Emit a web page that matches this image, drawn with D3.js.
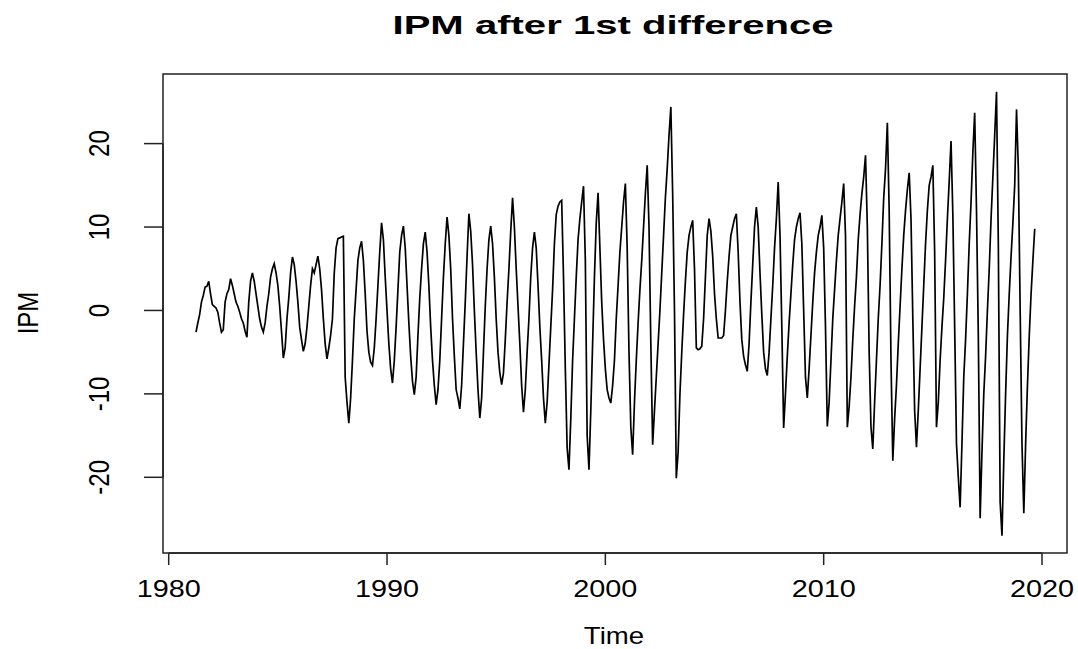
<!DOCTYPE html>
<meta charset="utf-8">
<script src="https://d3js.org/d3.v7.min.js"></script>
<style>
  body { margin: 0; background: #fff; }
  text { font-family: "Liberation Sans", Arial, sans-serif; fill: #000; }
</style>
<svg id="chart" width="1078" height="649"></svg>
<script>

// monthly series, starts April 1981
var startYear = 1981.25, freq = 12;

var ipm = [
 -2.6,-1.5,-0.5,1.0,1.8,2.8,2.9,3.5,2.0,0.7,0.5,0.3,-0.2,-1.5,-2.6,-2.3,1.0,2.0,2.5,3.8,
 3.0,2.0,1.0,0.5,-0.2,-1.0,-1.5,-2.5,-3.2,1.0,3.5,4.5,3.5,2.0,0.5,-1.0,-2.0,-2.6,-1.5,0.5,
 2.0,4.0,5.0,5.6,4.5,3.0,0.5,-2.5,-5.7,-4.5,-1.0,1.5,4.5,6.4,5.5,3.5,1.0,-2.0,-3.5,-4.9,
 -4.0,-2.0,0.5,3.0,5.0,4.5,5.5,6.5,5.0,2.5,-1.0,-4.0,-5.8,-4.5,-3.0,-1.0,4.5,7.5,8.6,8.7,
 8.8,8.9,-8.0,-11.0,-13.5,-10.5,-6.0,-1.0,2.5,6.0,7.5,8.3,6.0,2.0,-2.5,-5.0,-6.2,-6.6,-4.5,-1.0,
 3.0,7.0,10.5,8.5,4.0,0.0,-4.0,-7.0,-8.7,-6.0,-2.0,2.5,7.0,9.0,10.1,7.5,3.0,-1.5,-5.5,-8.5,
 -10.1,-8.0,-3.0,1.5,5.0,8.0,9.4,7.0,3.0,-2.0,-6.0,-9.0,-11.3,-9.5,-6.0,-1.0,4.0,8.0,11.2,9.0,
 5.0,-1.0,-5.5,-9.5,-10.5,-11.8,-9.0,-4.0,1.0,6.5,11.6,9.5,5.5,0.0,-5.0,-9.5,-12.9,-10.5,-5.0,0.5,
 5.0,8.5,10.1,8.0,4.0,-1.0,-5.0,-7.5,-8.9,-7.5,-3.5,1.0,5.0,9.5,13.5,10.0,5.0,0.5,-4.0,-9.0,
 -12.2,-9.5,-5.0,-1.0,4.0,7.5,9.4,7.5,3.0,-2.0,-6.0,-10.5,-13.5,-11.0,-6.5,-2.0,2.5,8.0,11.5,12.5,
 13.0,13.2,4.0,-7.0,-16.5,-19.1,-13.0,-6.0,-1.0,4.0,8.5,11.0,13.0,14.9,6.0,-15.0,-19.1,-12.0,-4.0,4.0,
 10.5,14.1,7.5,1.0,-3.5,-7.0,-9.5,-10.5,-11.1,-9.0,-6.0,-1.0,3.0,7.0,10.0,13.0,15.2,7.5,-5.0,-14.0,
 -17.3,-11.0,-6.0,-1.5,2.5,6.0,10.0,14.0,17.4,10.0,-4.0,-16.1,-12.0,-8.0,-4.0,0.0,4.5,9.0,13.5,17.0,
 21.0,24.4,14.0,0.0,-20.1,-17.0,-10.0,-5.0,-0.5,3.5,7.0,9.0,10.0,10.8,5.0,-4.5,-4.7,-4.6,-4.3,-1.0,
 4.0,9.0,11.0,9.5,6.5,2.0,-1.0,-3.3,-3.3,-3.3,-3.0,0.0,3.5,6.5,9.0,10.0,11.0,11.6,7.0,1.0,
 -3.5,-5.5,-6.5,-7.3,-4.0,1.0,5.5,10.0,12.4,10.0,4.5,-0.5,-5.0,-7.0,-7.8,-5.0,-1.0,3.0,7.5,11.0,
 15.4,9.0,-2.0,-14.1,-10.0,-5.5,-1.5,2.0,5.5,8.5,10.0,11.0,11.7,8.0,0.0,-8.0,-10.5,-7.0,-3.0,1.0,
 4.5,7.0,9.0,10.0,11.4,7.5,-2.0,-13.9,-11.0,-6.0,-1.0,2.5,6.0,9.0,11.0,13.0,15.2,9.0,-14.0,-11.5,
 -8.0,-3.5,0.5,4.0,8.5,11.5,14.0,16.0,18.6,10.0,-5.0,-14.0,-16.6,-11.0,-6.0,-1.0,3.0,8.0,13.5,17.0,
 22.5,12.0,-6.0,-18.0,-13.0,-9.0,-4.0,0.5,5.0,9.0,12.0,14.5,16.5,11.0,-1.0,-12.0,-16.4,-12.0,-7.0,-2.0,
 3.0,8.0,12.0,15.0,16.0,17.4,7.0,-14.0,-11.0,-6.0,-2.0,1.5,6.0,11.0,15.5,20.3,11.5,-2.0,-16.0,-20.0,
 -23.6,-16.0,-8.0,-3.5,2.0,8.0,13.0,19.0,23.7,12.0,-3.0,-24.9,-17.0,-10.0,-5.5,0.0,5.0,11.0,16.0,21.0,
 26.2,8.0,-23.0,-27.0,-18.0,-10.0,-3.0,2.0,6.5,10.5,15.0,24.1,17.0,0.0,-16.0,-24.3,-16.0,-9.0,-3.0,2.0,
 6.0,9.8
];

var xTicks = [1980, 1990, 2000, 2010, 2020];
var yTicks = [-20, -10, 0, 10, 20];

var title = "IPM after 1st difference",
    xLabel = "Time",
    yLabel = "IPM";

var svg = d3.select("#chart");

// plot box (R style)
var box = {left: 163, right: 1067, top: 74, bottom: 553};

var x = d3.scaleLinear().domain([1980, 2020]).range([168.7, 1042]);
var y = d3.scaleLinear().domain([-20, 20]).range([477.3, 143.6]);

var data = ipm.map(function(v, i) { return {t: startYear + i / freq, v: v}; });

var line = d3.line()
    .x(function(d) { return x(d.t); })
    .y(function(d) { return y(d.v); });

svg.append("path")
    .datum(data)
    .attr("d", line)
    .style("fill", "none")
    .style("stroke", "#000")
    .style("stroke-width", 1.7)
    .style("stroke-linejoin", "miter");

svg.append("rect")
    .attr("x", box.left).attr("y", box.top)
    .attr("width", box.right - box.left)
    .attr("height", box.bottom - box.top)
    .style("fill", "none")
    .style("stroke", "#222")
    .style("stroke-width", 1.5);

// bottom axis
var gx = svg.append("g");
gx.append("line")
    .attr("x1", x(1980)).attr("x2", x(2020))
    .attr("y1", box.bottom).attr("y2", box.bottom)
    .style("stroke", "#222").style("stroke-width", 1.5);
gx.selectAll(".tk").data(xTicks).enter().append("line")
    .attr("x1", function(d) { return x(d); })
    .attr("x2", function(d) { return x(d); })
    .attr("y1", box.bottom).attr("y2", box.bottom + 12)
    .style("stroke", "#222").style("stroke-width", 1.5);
gx.selectAll(".lb").data(xTicks).enter().append("text")
    .attr("transform", function(d) { return "translate(" + x(d) + ",597) scale(1.2,1)"; })
    .attr("text-anchor", "middle")
    .style("font-size", "24px")
    .text(function(d) { return d; });

// left axis
var gy = svg.append("g");
gy.append("line")
    .attr("x1", box.left).attr("x2", box.left)
    .attr("y1", y(-20)).attr("y2", y(20))
    .style("stroke", "#222").style("stroke-width", 1.5);
gy.selectAll(".tk").data(yTicks).enter().append("line")
    .attr("x1", box.left - 19).attr("x2", box.left)
    .attr("y1", function(d) { return y(d); })
    .attr("y2", function(d) { return y(d); })
    .style("stroke", "#222").style("stroke-width", 1.5);
gy.selectAll(".lb").data(yTicks).enter().append("text")
    .attr("transform", function(d) { return "translate(109," + y(d) + ") scale(1.2,1) rotate(-90)"; })
    .attr("text-anchor", "middle")
    .style("font-size", "24px")
    .text(function(d) { return d; });

// titles
svg.append("text")
    .attr("x", 613).attr("y", 34)
    .attr("text-anchor", "middle")
    .attr("textLength", 441)
    .attr("lengthAdjust", "spacingAndGlyphs")
    .style("font-size", "26px")
    .style("font-weight", "bold")
    .text(title);

svg.append("text")
    .attr("transform", "translate(614,644) scale(1.2,1)")
    .attr("text-anchor", "middle")
    .style("font-size", "23px")
    .text(xLabel);

svg.append("text")
    .attr("transform", "translate(38,313) scale(1.2,1) rotate(-90)")
    .attr("text-anchor", "middle")
    .style("font-size", "24px")
    .text(yLabel);

</script>
